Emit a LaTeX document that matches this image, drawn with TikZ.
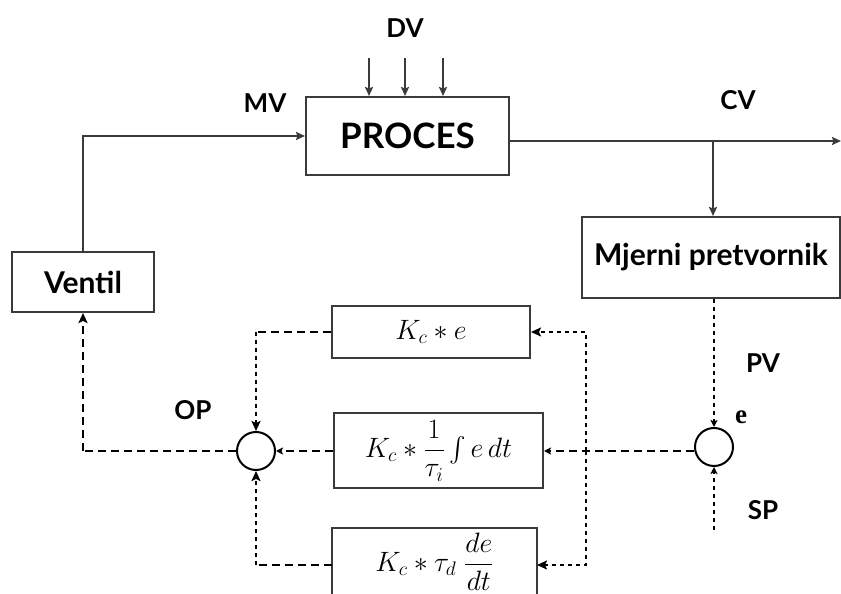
\RequirePackage{fix-cm}
\documentclass[tikz,border=0pt]{standalone}
\usepackage{amsmath}
\usepackage{fontspec}
\setmainfont{Lato}
\newfontfamily\serifbold{Liberation Serif}
\usetikzlibrary{arrows.meta,calc}
\definecolor{linec}{HTML}{3A3A3A}
\begin{document}
\begin{tikzpicture}[x=1pt,y=1pt,
  box/.style={draw=linec,line width=2pt,fill=white,inner sep=0pt},
  sumc/.style={circle,draw=black,line width=2pt,fill=white,minimum size=38pt,inner sep=0pt},
  solid line/.style={draw=linec,line width=2.2pt,-{Stealth[length=9pt,width=8pt,inset=1.5pt]}},
  dashline/.style={draw=black,line width=2.4pt,dash pattern=on 8pt off 5pt},
  dotline/.style={draw=black,line width=2.4pt,dash pattern=on 4pt off 4pt},
  tip/.style={-{Stealth[length=10pt,width=9pt,inset=2pt]}},
  smalltip/.style={-{Stealth[length=7pt,width=7pt,inset=1.5pt]}},
  bigfont/.style={font=\bfseries\fontsize{35}{40}\selectfont},
  midfont/.style={font=\bfseries\fontsize{30}{34}\selectfont},
  lblfont/.style={font=\bfseries\fontsize{26}{30}\selectfont},
  mathfont/.style={font=\fontsize{28}{33}\selectfont}
]
\useasboundingbox (0,0) rectangle (841,594);
\clip (0,0) rectangle (841,594);
\fill[white] (0,0) rectangle (841,594);

% blocks
\node[box,bigfont,minimum width=203pt,minimum height=78pt] (proces) at (407.5,458) {PROCES};
\node[box,midfont,minimum width=142pt,minimum height=60pt] (ventil) at (83,312) {Ventil};
\node[box,midfont,minimum width=258pt,minimum height=81pt] (mj) at (711,336.5) {Mjerni pretvornik};
\node[box,mathfont,minimum width=198pt,minimum height=52pt] (kp) at (431,262) {$K_c * e$};
\node[box,mathfont,minimum width=209pt,minimum height=75pt] (ki) at (438.5,143) {$K_c * \dfrac{1}{\tau_i}\textstyle\int e\,dt$};
\node[box,mathfont,minimum width=205pt,minimum height=68pt] (kd) at (434.5,32) {$K_c * \tau_d\;\dfrac{de}{dt}$};
\node[sumc] (lc) at (256,143) {};
\node[sumc] (rc) at (714,147) {};

% coordinates
\coordinate (d1) at (369,536);
\coordinate (d2) at (405,536);
\coordinate (d3) at (443,536);
\coordinate (cvend) at (841,453);
\coordinate (br) at (713,453);
\coordinate (sp) at (714,64);
\coordinate (j) at (586,143);
\coordinate (kdin) at (537,29);
\coordinate (kdout) at (332,29);

% solid connectors
\draw[solid line] (d1) -- (d1 |- proces.north);
\draw[solid line] (d2) -- (d2 |- proces.north);
\draw[solid line] (d3) -- (d3 |- proces.north);
\draw[solid line] (ventil.north) |- (proces.west);
\draw[solid line] (proces.east |- cvend) -- (cvend);
\draw[solid line] (br) -- (br |- mj.north);

% dashed / dotted connectors
\draw[dotline,smalltip] (rc.north |- mj.south) -- (rc.north);
\draw[dotline,smalltip] (sp) -- (rc.south);
\draw[dashline,smalltip] (rc.west |- ki.east) -- (ki.east);
\draw[dotline,tip] (j) |- (kp.east);
\draw[dotline,tip] (j) |- (kdin);
\draw[dashline,smalltip] (ki.west) -- (lc.east);
\draw[dashline] (kp.west) -- (kp.west -| lc.north);
\draw[dotline,tip] (kp.west -| lc.north) -- (lc.north);
\draw[dashline] (kdout) -- (kdout -| lc.south);
\draw[dotline,tip] (kdout -| lc.south) -- (lc.south);
\draw[dashline] (lc.west) -- (lc.west -| ventil.south);
\draw[dashline,tip] (lc.west -| ventil.south) -- (ventil.south);

% labels
\node[lblfont] (dv) at (405,566) {DV};
\node[lblfont] (mv) at (265,491) {MV};
\node[lblfont] (cv) at (738,494) {CV};
\node[lblfont] (pv) at (763,231) {PV};
\node[font=\serifbold\bfseries\fontsize{27}{30}\selectfont] (el) at (741,177) {e};
\node[lblfont] (spl) at (763,84) {SP};
\node[lblfont] (op) at (193,184) {OP};
\end{tikzpicture}
\end{document}
